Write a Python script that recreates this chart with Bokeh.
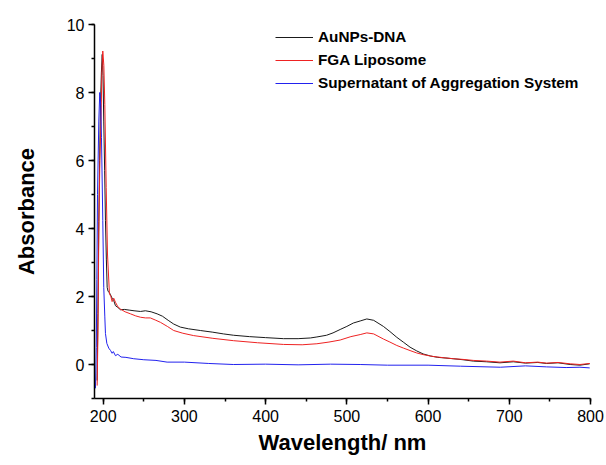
from bokeh.plotting import figure
from bokeh.models import Range1d, SingleIntervalTicker, Legend, LegendItem
from bokeh.embed import file_html
from bokeh.resources import INLINE

# --- data ---
wl_dna = [192.5, 193.5, 194.6, 195.6, 196.7, 197.8, 198.8, 199.8, 200.7, 201.8, 202.8, 203.9,
          204.9, 206.0, 207.5, 209.0, 211.0, 213.0, 215.1, 218.0, 221.3, 226, 232, 238, 245.9,
          252, 259, 266.4, 273, 280, 286.8, 295, 305, 319.6, 335, 348, 360.6, 380, 400, 422.1,
          440, 455, 463.1, 475, 483, 491.8, 500, 508, 516.4, 524.6, 533, 545, 553, 561.5, 570,
          577.8, 586, 594, 603, 612, 622, 631, 643, 655.7, 672, 688.5, 705, 720, 735, 746, 760,
          775, 787, 799]
abs_dna = [-0.47, 1.5, 4.2, 6.0, 7.66, 8.6, 9.12, 8.5, 7.16, 5.7, 4.23, 3.1,
           2.27, 2.15, 2.12, 2.05, 1.95, 1.88, 1.73, 1.68, 1.61, 1.62, 1.60, 1.58, 1.56,
           1.58, 1.55, 1.49, 1.42, 1.30, 1.19, 1.10, 1.05, 1.0, 0.95, 0.90, 0.86, 0.82, 0.79, 0.76,
           0.76, 0.78, 0.81, 0.86, 0.93, 1.03, 1.12, 1.22, 1.28, 1.34, 1.30, 1.12, 0.97, 0.80, 0.65,
           0.51, 0.40, 0.31, 0.25, 0.21, 0.19, 0.17, 0.14, 0.10, 0.08, 0.05, 0.08, 0.04, 0.06, 0.03, 0.05,
           0.0, -0.02, 0.02]

wl_lipo = [192.6, 193.6, 194.6, 195.9, 197.3, 198.4, 199.5, 200.8, 202.0, 203.7, 205.3, 207.7,
           209.5, 211, 213, 215.1, 218, 221.3, 227, 233.6, 240, 245.9, 252, 258, 264, 270.5, 279,
           286.8, 298, 311.4, 335, 360.6, 390, 422.1, 445, 463.1, 478, 491.8, 505, 516.4, 524.6,
           533, 545, 553, 561.5, 570, 577.8, 586, 594, 605, 618.8, 631, 643, 655.7, 672, 688.5,
           705, 720, 735, 746, 760, 775, 787, 799]
abs_lipo = [-0.62, 1.0, 3.9, 6.0, 7.2, 8.6, 9.22, 8.8, 7.65, 5.2, 3.25, 2.08,
            2.0, 1.85, 1.95, 1.83, 1.70, 1.63, 1.55, 1.49, 1.43, 1.39, 1.37, 1.37, 1.31, 1.24, 1.12,
            1.0, 0.92, 0.85, 0.77, 0.70, 0.64, 0.59, 0.58, 0.61, 0.66, 0.72, 0.82, 0.88, 0.93,
            0.90, 0.75, 0.66, 0.56, 0.48, 0.41, 0.34, 0.29, 0.24, 0.20, 0.17, 0.15, 0.12, 0.10, 0.07,
            0.10, 0.05, 0.07, 0.04, 0.06, 0.02, 0.0, 0.03]

wl_sup = [190.5, 191.5, 192.2, 193.0, 194.6, 195.8, 197.0, 197.9, 199.5, 200.7, 202.0, 202.8,
          204.5, 206.9, 209.1, 211, 212.5, 215.1, 218, 222, 228, 237.6, 250, 265, 278.7, 300,
          330, 360.2, 400, 440, 480, 516.4, 550, 600, 640, 689, 720, 746, 770, 787, 799]
abs_sup = [-0.70, 0.5, 2.5, 5.0, 7.16, 8.0, 7.6, 6.67, 4.23, 2.27, 1.4, 0.91,
           0.62, 0.48, 0.41, 0.33, 0.38, 0.26, 0.30, 0.22, 0.21, 0.17, 0.14, 0.12, 0.07, 0.07,
           0.03, 0.0, 0.01, -0.01, 0.01, 0.0, -0.02, -0.02, -0.05, -0.08, -0.04, -0.07, -0.09, -0.08, -0.10]

labels = ["AuNPs-DNA", "FGA Liposome", "Supernatant of Aggregation System"]
x_ticks_interval = 100
y_ticks_interval = 2

FONT = "Liberation Sans"

p = figure(width=604, height=457, output_backend="svg", toolbar_location=None,
           x_range=Range1d(189.3, 800), y_range=Range1d(-1, 10),
           min_border_left=94, min_border_right=14, min_border_top=24, min_border_bottom=58)
p.outline_line_color = None
p.xgrid.visible = False
p.ygrid.visible = False
p.background_fill_color = "white"

r1 = p.line(wl_dna, abs_dna, line_color="#1a1a1a", line_width=1)
r2 = p.line(wl_lipo, abs_lipo, line_color="#ee2222", line_width=1)
r3 = p.line(wl_sup, abs_sup, line_color="#2222ee", line_width=1)

for ax, interval in ((p.xaxis[0], x_ticks_interval), (p.yaxis[0], y_ticks_interval)):
    ax.ticker = SingleIntervalTicker(interval=interval, num_minor_ticks=2)
    ax.axis_line_width = 1.5
    ax.axis_line_color = "black"
    ax.major_tick_line_width = 1.5
    ax.minor_tick_line_width = 1.5
    ax.major_tick_in = 0
    ax.major_tick_out = 6
    ax.minor_tick_in = 0
    ax.minor_tick_out = 3
    ax.major_label_text_font = FONT
    ax.major_label_text_font_size = "16px"
    ax.major_label_text_color = "black"
    ax.axis_label_text_font = FONT
    ax.axis_label_text_font_size = "22px"
    ax.axis_label_text_font_style = "bold"
    ax.axis_label_text_color = "black"

p.xaxis.axis_label = "Wavelength/ nm"
p.yaxis.axis_label = "Absorbance"
p.xaxis.major_label_standoff = 5
p.xaxis.axis_label_standoff = 5
p.yaxis.major_label_standoff = 4
p.yaxis.axis_label_standoff = 25

legend = Legend(items=[LegendItem(label=labels[0], renderers=[r1]),
                       LegendItem(label=labels[1], renderers=[r2]),
                       LegendItem(label=labels[2], renderers=[r3])],
                location=(181, 305), padding=0, margin=0, spacing=3,
                glyph_width=38, glyph_height=20, label_standoff=5,
                border_line_color=None, background_fill_alpha=0,
                label_text_font=FONT, label_text_font_size="15.3px",
                label_text_font_style="bold", label_text_color="black")
p.add_layout(legend)

open("out.html", "w").write(file_html(p, INLINE))
